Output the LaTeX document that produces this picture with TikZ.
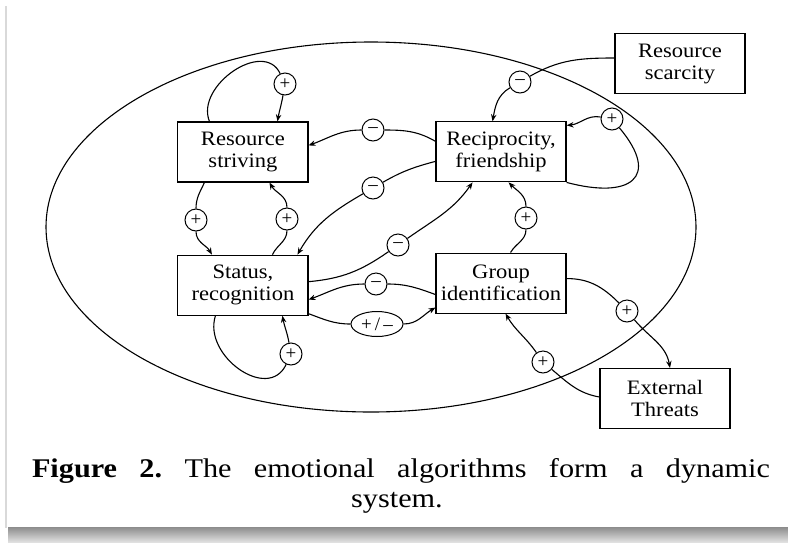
\documentclass[tikz,border=0pt]{standalone}
\usepackage{fontspec}
\setmainfont{Liberation Serif}
\newfontfamily\boxfont{Liberation Serif}[FakeStretch=1.1]
\newfontfamily\capfont{Liberation Serif}[FakeStretch=1.12]
\usetikzlibrary{matrix,shapes.geometric,arrows.meta}
\hyphenpenalty=10000
\tikzset{
	box/.style={draw, line width=1.1pt, minimum width=130pt, minimum height=60pt, text width=124pt, inner sep=1pt, align=center, font=\boxfont\fontsize{20.5}{22}\selectfont},
	sgn/.style={circle, draw, line width=1pt, fill=white, inner sep=0pt, minimum size=22pt, font=\fontsize{19}{19}\selectfont},
	link/.style={line width=1.1pt}
}

\begin{document}
\begin{tikzpicture}[x=1pt,y=1pt,>={Stealth[length=7pt,width=5.5pt]}]
	\useasboundingbox (0,0) rectangle (788,-542);
	\fill[white] (0,0) rectangle (788,-542);
	\draw[black!15, line width=2pt] (6,-6) -- (6,-528);
	\shade[top color=black!45, bottom color=black!12] (8,-527) rectangle (788,-542);
	
	\draw[link] (371,-227) ellipse [x radius=325, y radius=185];
	
	\matrix (m) [matrix of nodes, nodes={box}, row sep=70pt, column sep=127pt] at (372,-218.5)
	{
		Resource striving	& Reciprocity, friendship \\
		Status, recognition	& Group identification \\};
	\node[box] (sc) at (680,-63.5) {Resource scarcity};
	\node[box] (et) at (665,-398.5) {External Threats};
	
	% signs
	\node[sgn] (p1) at (285,-84) {+};
	\node[sgn] (p2) at (196,-220) {+};
	\node[sgn] (p3) at (287,-219) {+};
	\node[sgn] (p4) at (291,-354) {+};
	\node[sgn] (p5) at (612,-119) {+};
	\node[sgn] (p6) at (526,-218) {+};
	\node[sgn] (p7) at (627,-311) {+};
	\node[sgn] (p8) at (543,-362) {+};
	\node[sgn] (n1) at (373,-130) {--};
	\node[sgn] (n2) at (373,-188) {--};
	\node[sgn] (n3) at (398,-245) {--};
	\node[sgn] (n4) at (376,-284) {--};
	\node[sgn] (n5) at (520,-82) {--};
	\node[sgn, ellipse, minimum width=52pt, minimum height=25pt] (pm) at (377,-324) {+\,/\,--};
	
	\path[link]
	([xshift=-33.5pt]m-1-1.north) edge[out=112,in=115,looseness=1.15] (p1)
	(p1) edge[->,out=-100,in=80] ([xshift=34.5pt]m-1-1.north)
	([xshift=-38.5pt]m-1-1.south) edge[out=-115,in=90] (p2)
	(p2) edge[->,out=-90,in=120] ([xshift=-31pt]m-2-1.north)
	([xshift=29.5pt]m-2-1.north) edge[out=65,in=-90] (p3)
	(p3) edge[->,out=90,in=-60] ([xshift=26.5pt]m-1-1.south)
	([xshift=-27.5pt]m-2-1.south) edge[out=-108,in=-115,looseness=1.25] (p4)
	(p4) edge[->,out=100,in=-80] ([xshift=39.5pt]m-2-1.south)
	(m-1-2.south east) edge[out=-15,in=-50,looseness=2.2] (p5)
	(p5) edge[->,out=170,in=5] ([yshift=26.5pt]m-1-2.east)
	([yshift=5.5pt]sc.west) edge[out=180,in=30] (n5)
	(n5) edge[->,out=-150,in=80] ([xshift=-8.5pt]m-1-2.north)
	([yshift=10.5pt]m-1-2.west) edge[out=150,in=0] (n1)
	(n1) edge[->,out=180,in=20] ([yshift=6.5pt]m-1-1.east)
	([yshift=-9.5pt]m-1-2.west) edge[out=195,in=30] (n2)
	(n2) edge[->,out=-150,in=60] ([xshift=54.5pt]m-2-1.north)
	([yshift=3.5pt]m-2-1.east) edge[out=5,in=-145] (n3)
	(n3) edge[->,out=35,in=-125] ([xshift=-28.5pt]m-1-2.south)
	([yshift=-11.5pt]m-2-2.west) edge[out=160,in=0] (n4)
	(n4) edge[->,out=180,in=20] ([yshift=-14.5pt]m-2-1.east)
	([yshift=-28.5pt]m-2-1.east) edge[out=-20,in=180] (pm)
	(pm) edge[->,out=0,in=-150] ([yshift=-24.5pt]m-2-2.west)
	([xshift=9.5pt]m-2-2.north) edge[out=60,in=-90] (p6)
	(p6) edge[->,out=90,in=-45] ([xshift=7.5pt]m-1-2.south)
	([yshift=4.5pt]m-2-2.east) edge[out=0,in=135] (p7)
	(p7) edge[->,out=-50,in=100] ([xshift=5pt]et.north)
	([yshift=1.5pt]et.west) edge[out=170,in=-40] (p8)
	(p8) edge[->,out=125,in=-60] ([xshift=4.5pt]m-2-2.south);
	
	\node[anchor=base, font=\capfont\fontsize{27}{30}\selectfont] (cap1) at (401,-477) {\frenchspacing\makebox[738pt][s]{\textbf{Figure 2.} The emotional algorithms form a dynamic}};
	\node[anchor=base, font=\capfont\fontsize{27}{30}\selectfont] (cap2) at (397,-507) {system.};
\end{tikzpicture}
\end{document}
